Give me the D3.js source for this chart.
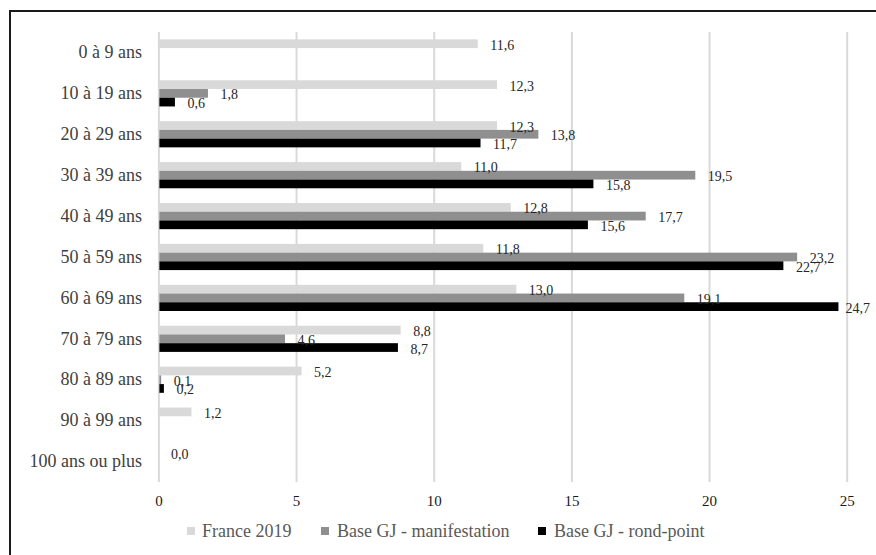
<!DOCTYPE html>
<html>
<head>
<meta charset="utf-8">
<script src="https://cdn.jsdelivr.net/npm/d3@7"></script>
<style>
  html, body { margin: 0; padding: 0; background: #fff; }
  svg { display: block; }
  text { font-family: "Liberation Serif", "DejaVu Serif", serif; }
</style>
</head>
<body>
<svg id="chart" width="876" height="555"></svg>
<script>
const categories = ["0 à 9 ans", "10 à 19 ans", "20 à 29 ans", "30 à 39 ans", "40 à 49 ans",
  "50 à 59 ans", "60 à 69 ans", "70 à 79 ans", "80 à 89 ans", "90 à 99 ans", "100 ans ou plus"];
const seriesNames = ["France 2019", "Base GJ - manifestation", "Base GJ - rond-point"];
const france2019 = [11.6, 12.3, 12.3, 11.0, 12.8, 11.8, 13.0, 8.8, 5.2, 1.2, 0.0];
const manifestation = [null, 1.8, 13.8, 19.5, 17.7, 23.2, 19.1, 4.6, 0.1, null, null];
const rondPoint = [null, 0.6, 11.7, 15.8, 15.6, 22.7, 24.7, 8.7, 0.2, null, null];
const xTicks = [0, 5, 10, 15, 20, 25];

const seriesValues = [france2019, manifestation, rondPoint];
const colors = ["#d9d9d9", "#8f8f8f", "#000000"];

const svg = d3.select("#chart");
const fmt = v => d3.format(".1f")(v).replace(".", ",");

// frame (top and left only)
svg.append("line").attr("x1", 10).attr("x2", 876).attr("y1", 11).attr("y2", 11)
  .attr("stroke", "#1a1a1a").attr("stroke-width", 2);
svg.append("line").attr("x1", 10).attr("x2", 10).attr("y1", 10).attr("y2", 555)
  .attr("stroke", "#1a1a1a").attr("stroke-width", 2);

const plotTop = 32, plotBottom = 482;
const x = d3.scaleLinear().domain([0, 25]).range([158.4, 846.7]);
const y = d3.scaleBand().domain(categories).range([plotTop, plotBottom])
  .paddingInner(0.36).paddingOuter(0.18);
const ySub = d3.scaleBand().domain(d3.range(seriesNames.length)).range([0, y.bandwidth()]);

// grid + x tick labels
const xAxis = d3.axisBottom(x).tickValues(xTicks).tickSize(plotBottom - plotTop).tickPadding(13)
  .tickFormat(d3.format("d"));
const gx = svg.append("g").attr("transform", `translate(0,${plotTop})`).call(xAxis);
gx.select(".domain").remove();
gx.selectAll(".tick line").attr("stroke", "#d9d9d9").attr("stroke-width", 2);
gx.selectAll(".tick text").attr("font-size", 15).attr("fill", "#1a1a1a");

// category labels
const yAxis = d3.axisLeft(y).tickSize(0).tickPadding(16);
const gy = svg.append("g").attr("transform", `translate(158,0)`).call(yAxis);
gy.select(".domain").remove();
gy.selectAll(".tick text").attr("font-size", 18).attr("fill", "#404040");

// bars
const rows = [];
categories.forEach((c, i) => {
  seriesValues.forEach((arr, s) => {
    if (arr[i] !== null && arr[i] !== undefined) rows.push({ c, s, v: arr[i] });
  });
});

svg.append("g").selectAll("rect").data(rows).join("rect")
  .attr("x", x(0) + 1)
  .attr("y", d => y(d.c) + ySub(d.s))
  .attr("width", d => Math.max(0, x(d.v) - x(0) - 1))
  .attr("height", ySub.bandwidth())
  .attr("fill", d => colors[d.s]);

// data labels
const labels = svg.append("g").selectAll("text").data(rows).join("text")
  .attr("y", d => y(d.c) + ySub(d.s) + ySub.bandwidth() / 2 + 1.5)
  .attr("dominant-baseline", "central")
  .attr("font-size", 14)
  .attr("fill", "#262626")
  .text(d => fmt(d.v));
labels.attr("x", function (d) {
  const w = this.getComputedTextLength();
  return Math.min(x(d.v) + 12.5, 870 - w);
});

// legend
const legendPos = [{ m: 187, t: 202 }, { m: 321, t: 337 }, { m: 538, t: 554 }];
const lg = svg.append("g").selectAll("g").data(seriesNames).join("g");
lg.append("rect")
  .attr("x", (d, i) => legendPos[i].m).attr("y", 527)
  .attr("width", 8).attr("height", 8)
  .attr("fill", (d, i) => colors[i]);
lg.append("text")
  .attr("x", (d, i) => legendPos[i].t).attr("y", 531)
  .attr("dominant-baseline", "central")
  .attr("font-size", 18).attr("fill", "#595959")
  .text(d => d);
</script>
</body>
</html>
